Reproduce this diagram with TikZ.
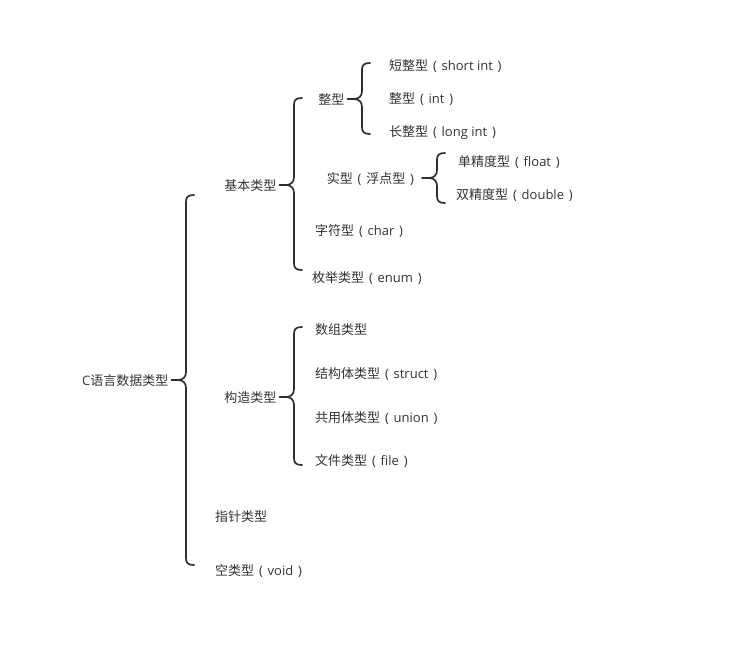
\documentclass[tikz,border=0pt]{standalone}
\usepackage{fontspec}
\setmainfont{Open Sans}
\newfontfamily\cjk{Noto Sans CJK SC}
\definecolor{ink}{HTML}{333333}
\definecolor{linec}{HTML}{2E2E2E}
\newcommand{\lp}{\makebox[13.5pt]{(}}
\newcommand{\rp}{\makebox[13.5pt]{)}}
\tikzset{
  lbl/.style={anchor=west, inner sep=0pt, text=ink, font=\fontsize{13pt}{15pt}\selectfont, text height=12.4pt, text depth=0.6pt},
  root/.style={lbl, anchor=east},
  br/.style={draw=linec, line width=1.7pt, line cap=round, line join=round}
}
% #1 parent node, #2 x of vertical, #3 top y, #4 bottom y, #5 tip y
\newcommand{\mybrace}[5]{%
  \draw[br] ([xshift=3pt]#1.east) -- ({#2-8},{#5})
    .. controls ({#2-3},{#5}) and ({#2},{#5-3}) .. ({#2},{#5-8})
    -- ({#2},{#3+7})
    .. controls ({#2},{#3+2}) and ({#2+2},{#3}) .. ({#2+8},{#3});
  \draw[br] ({#2-8},{#5})
    .. controls ({#2-3},{#5}) and ({#2},{#5+3}) .. ({#2},{#5+8})
    -- ({#2},{#4-7})
    .. controls ({#2},{#4-2}) and ({#2+2},{#4}) .. ({#2+8},{#4});
}
\begin{document}
\begin{tikzpicture}[x=1pt,y=-1pt]
\useasboundingbox (0,0) rectangle (736,648);
% root
\node[root] (c) at (168.5,380) {C{\cjk 语言数据类型}};
% level 2
\node[root] (jb) at (276.5,185) {\cjk 基本类型};
\node[root] (gz) at (276.5,397) {\cjk 构造类型};
\node[lbl] (zz) at (215,516) {\cjk 指针类型};
\node[lbl] (kl) at (215,570) {{\cjk 空类型}\lp void\rp};
% level 3 under 基本类型
\node[root] (zx) at (344.5,99) {\cjk 整型};
\node[root] (sx) at (419,178) {{\cjk 实型}\lp{\cjk 浮点型}\rp};
\node[lbl] (zf) at (315,230) {{\cjk 字符型}\lp char\rp};
\node[lbl] (mj) at (312,277) {{\cjk 枚举类型}\lp enum\rp};
% level 4 under 整型
\node[lbl] (dz) at (389,65) {{\cjk 短整型}\lp short int\rp};
\node[lbl] (zi) at (389,98) {{\cjk 整型}\lp int\rp};
\node[lbl] (cz) at (389,131) {{\cjk 长整型}\lp long int\rp};
% level 4 under 实型
\node[lbl] (dj) at (458,161) {{\cjk 单精度型}\lp float\rp};
\node[lbl] (sj) at (456,194) {{\cjk 双精度型}\lp double\rp};
% level 3 under 构造类型
\node[lbl] (sz) at (315,329) {\cjk 数组类型};
\node[lbl] (jg) at (315,373) {{\cjk 结构体类型}\lp struct\rp};
\node[lbl] (gy) at (315,417) {{\cjk 共用体类型}\lp union\rp};
\node[lbl] (wj) at (315,460) {{\cjk 文件类型}\lp file\rp};
% braces
\mybrace{c}{186}{195}{565}{380}
\mybrace{jb}{294}{98}{270}{185}
\mybrace{gz}{294}{327}{465}{397}
\mybrace{zx}{362}{63}{134}{99}
\mybrace{sx}{437}{153}{203}{178}
\end{tikzpicture}
\end{document}
